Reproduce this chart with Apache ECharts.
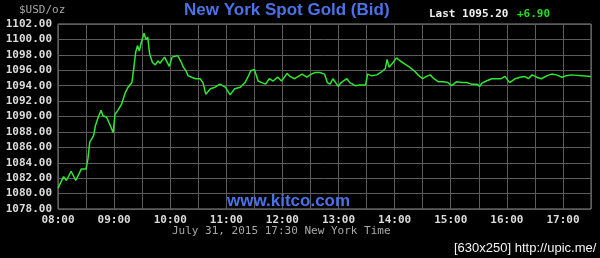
<!DOCTYPE html>
<html><head><meta charset="utf-8">
<script src="https://cdn.jsdelivr.net/npm/echarts@6/dist/echarts.min.js"></script>
<style>html,body{margin:0;padding:0;background:#000;}#c{width:600px;height:258px;}</style>
</head><body><div id="c"></div>
<script>
const times = ["08:00","08:06","08:09","08:14","08:19","08:25","08:30","08:32","08:34","08:38","08:40","08:43","08:46","08:48","08:52","08:56","08:59",
"09:01","09:04","09:08","09:12","09:15","09:19","09:21","09:23","09:25","09:27","09:29","09:32","09:34","09:36","09:38","09:41","09:44","09:47","09:49","09:54","09:56","09:59",
"10:02","10:04","10:08","10:12","10:14","10:17","10:19","10:23","10:27","10:32","10:35","10:38","10:43","10:48","10:53","10:59",
"11:04","11:09","11:15","11:20","11:23","11:26","11:30","11:34","11:38","11:42","11:46","11:50","11:55","11:59",
"12:05","12:08","12:13","12:17","12:21","12:26","12:31","12:35","12:40","12:45","12:48","12:51","12:54","12:58",
"13:00","13:02","13:05","13:09","13:12","13:18","13:23","13:29","13:31","13:35","13:41","13:46","13:50","13:52","13:54","13:57",
"14:02","14:06","14:11","14:16","14:22","14:25","14:30","14:34","14:38","14:42","14:47","14:52","14:57",
"15:01","15:06","15:12","15:17","15:22","15:28","15:31","15:33","15:38","15:44","15:49","15:54","15:58",
"16:03","16:09","16:14","16:19","16:23","16:27","16:32","16:37","16:43","16:48","16:53","16:59",
"17:04","17:09","17:11","17:30"];
const prices = [1080.7,1082.2,1081.7,1082.9,1081.7,1083.2,1083.2,1084.5,1086.7,1087.5,1088.8,1089.9,1090.8,1090.1,1089.9,1088.8,1087.9,
1090.3,1090.8,1091.6,1093.1,1093.8,1094.4,1096.2,1098.3,1099.2,1098.5,1099.6,1100.8,1100.0,1100.3,1098.1,1097.0,1096.7,1097.2,1096.9,1097.7,1097.5,1096.5,
1097.7,1097.5,1097.9,1097.0,1096.4,1095.9,1095.3,1095.1,1094.9,1094.9,1094.4,1092.9,1093.6,1093.8,1094.2,1093.8,
1092.8,1093.6,1093.8,1094.4,1095.1,1095.9,1096.1,1094.6,1094.4,1094.2,1094.9,1094.6,1095.1,1094.6,
1095.6,1095.2,1094.9,1095.2,1095.5,1095.1,1095.5,1095.7,1095.7,1095.5,1094.4,1094.2,1094.9,1094.2,
1093.9,1094.3,1094.6,1094.9,1094.4,1094.0,1094.1,1094.1,1095.5,1095.3,1095.4,1095.8,1096.2,1097.4,1096.4,1096.8,
1097.6,1097.2,1096.8,1096.4,1095.8,1095.4,1094.9,1095.2,1095.4,1094.9,1094.5,1094.5,1094.4,
1094.0,1094.5,1094.4,1094.4,1094.2,1094.2,1093.9,1094.3,1094.6,1094.9,1094.9,1094.9,1095.2,
1094.4,1094.9,1095.1,1095.2,1094.9,1095.4,1095.1,1094.9,1095.3,1095.5,1095.4,1095.1,
1095.3,1095.4,1095.2,1095.2];
const hourLabels = ["08:00","09:00","10:00","11:00","12:00","13:00","14:00","15:00","16:00","17:00"];
const yMin = 1078, yMax = 1102, yStep = 2;
const titleText = "New York Spot Gold (Bid)";
const unitText = "$USD/oz";
const lastText = "Last 1095.20";
const changeText = "+6.90";
const dateText = "July 31, 2015 17:30 New York Time";
const siteText = "www.kitco.com";
const stampText = "[630x250] http://upic.me/";

function toMin(t){const p=t.split(':');return (+p[0]-8)*60 + (+p[1]);}
const data = times.map((t,i)=>[toMin(t), prices[i]]);

const mono = "'DejaVu Sans Mono', 'Liberation Mono', monospace";
const chart = echarts.init(document.getElementById('c'), null, {renderer:'canvas'});
chart.setOption({
  backgroundColor:'#000',
  animation:false,
  grid:{left:58,right:9,top:24,bottom:49,show:true,borderColor:'#8a8a8a',borderWidth:1,backgroundColor:'#000'},
  xAxis:{type:'value',min:0,max:570,interval:30,
    axisLine:{show:false},axisTick:{show:false},
    splitLine:{show:true,lineStyle:{color:'#5c5c5c',width:1}},
    axisLabel:{color:'#dcdcdc',fontFamily:mono,fontSize:11,fontWeight:'bold',margin:6,
      formatter:v=>(v%60===0 && hourLabels[v/60]!==undefined)?hourLabels[v/60]:''}},
  yAxis:{type:'value',min:yMin,max:yMax,interval:yStep,
    axisLine:{show:false},axisTick:{show:false},
    splitLine:{show:true,lineStyle:{color:'#5c5c5c',width:1}},
    axisLabel:{color:'#dcdcdc',fontFamily:mono,fontSize:11,fontWeight:'bold',margin:6,
      formatter:v=>v.toFixed(2)}},
  series:[{type:'line',data:data,showSymbol:false,lineStyle:{color:'#2ee82e',width:1.5},z:3}],
  graphic:[
    {type:'text',left:19,top:5,style:{text:unitText,fill:'#a8a8a8',font:"11px "+mono}},
    {type:'text',left:184,top:2,style:{text:titleText,fill:'#4a72e8',font:"bold 17px 'Liberation Sans', Arial, sans-serif"}},
    {type:'text',left:429,top:9,style:{text:lastText,fill:'#f0f0f0',font:"bold 11px "+mono}},
    {type:'text',left:517,top:9,style:{text:changeText,fill:'#22dd22',font:"bold 11px "+mono}},
    {type:'text',left:227,top:193,z:10,style:{text:siteText,fill:'#4a72e8',font:"bold 17px 'Liberation Sans', Arial, sans-serif"}},
    {type:'text',left:172,top:226,style:{text:dateText,fill:'#a8a8a8',font:"11px "+mono}},
    {type:'text',left:454,top:242,style:{text:stampText,fill:'#f4f4f4',font:"13px 'Liberation Sans Narrow', 'Liberation Sans', sans-serif"}}
  ]
});
</script></body></html>
